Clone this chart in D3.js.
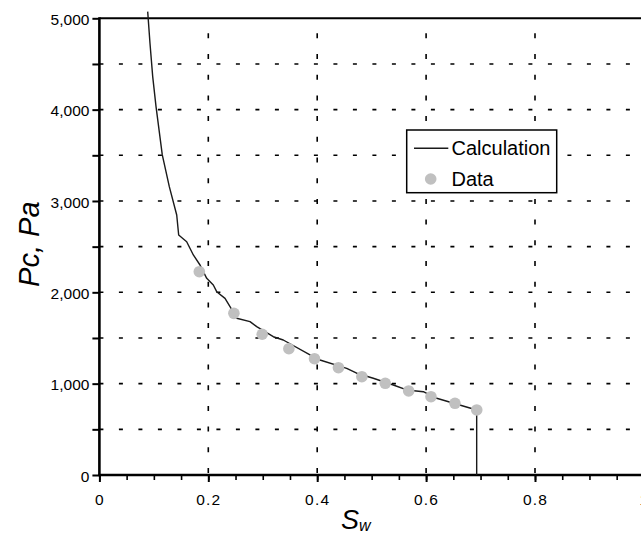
<!DOCTYPE html>
<html>
<head>
<meta charset="utf-8">
<script src="https://cdn.jsdelivr.net/npm/d3@7"></script>
<style>
  html, body { margin: 0; padding: 0; background: #fff; }
  svg { display: block; font-family: "Liberation Sans", Arial, Helvetica, sans-serif; }
</style>
</head>
<body>
<svg id="chart" width="641" height="536"></svg>
<script>
// Capillary pressure curve: calculated Pc vs water saturation, with measured points
const calcSw = [0.0887, 0.0929, 0.0979, 0.1040, 0.1155, 0.1284, 0.1420, 0.1456, 0.1603, 0.1725,
  0.1848, 0.1971, 0.2092, 0.2154, 0.2307, 0.2399, 0.2522, 0.2766, 0.2889, 0.3194,
  0.3377, 0.3868, 0.4051, 0.4542, 0.4725, 0.5030, 0.5398, 0.5644, 0.5949, 0.6195,
  0.6929, 0.6929];
const calcPc = [5073, 4727, 4361, 4033, 3504, 3157, 2847, 2628, 2554, 2409,
  2299, 2153, 2080, 2007, 1934, 1843, 1716, 1679, 1624, 1514,
  1478, 1314, 1259, 1168, 1114, 1059, 985, 931, 912, 840,
  712, 0];

const dataSw = [0.1835, 0.247, 0.299, 0.348, 0.395, 0.439, 0.482, 0.525, 0.568, 0.609, 0.653, 0.693];
const dataPc = [2226, 1770, 1541, 1383, 1273, 1175, 1076, 1004, 920, 857, 785, 712];

const xMajorTicks = [0, 0.2, 0.4, 0.6, 0.8, 1];
const xTickLabels = ["0", "0.2", "0.4", "0.6", "0.8", "1"];
const yMajorTicks = [0, 1000, 2000, 3000, 4000, 5000];
const yTickLabels = ["0", "1,000", "2,000", "3,000", "4,000", "5,000"];
const legendLabels = ["Calculation", "Data"];

const W = 641, H = 536;
const svg = d3.select("#chart");

const x = d3.scaleLinear().domain([0, 1]).range([99.4, 643.9]);
const y = d3.scaleLinear().domain([0, 5000]).range([475, 18.3]);

// Horizontal dashed grid every 500 Pa
const hGrid = d3.range(500, 5000, 500);
svg.append("g").selectAll("line").data(hGrid).join("line")
  .attr("x1", x(0)).attr("x2", W)
  .attr("y1", d => y(d)).attr("y2", d => y(d))
  .attr("stroke", "#000").attr("stroke-width", 1.6)
  .attr("stroke-dasharray", "4,15.5");

// Vertical dashed grid at major x ticks
svg.append("g").selectAll("line").data(xMajorTicks.filter(d => d > 0 && d < 1)).join("line")
  .attr("x1", d => x(d)).attr("x2", d => x(d))
  .attr("y1", y(0) - 2).attr("y2", y(5000))
  .attr("stroke", "#000").attr("stroke-width", 1.6)
  .attr("stroke-dasharray", "5,15.7");

// Top border
svg.append("line")
  .attr("x1", x(0)).attr("x2", W)
  .attr("y1", y(5000)).attr("y2", y(5000))
  .attr("stroke", "#000").attr("stroke-width", 2);

// X axis
const xAxisMinor = d3.axisBottom(x).tickValues(d3.range(0, 1.0001, 0.05)).tickSize(5).tickFormat("");
const gxm = svg.append("g").attr("transform", `translate(0,${y(0)})`).call(xAxisMinor);
gxm.select(".domain").remove();
gxm.selectAll("line").attr("stroke", "#000").attr("stroke-width", 1.6);

const xAxis = d3.axisBottom(x).tickValues(xMajorTicks).tickSize(7).tickPadding(12)
  .tickFormat((d, i) => xTickLabels[i]);
const gx = svg.append("g").attr("transform", `translate(0,${y(0)})`).call(xAxis);
gx.select(".domain").remove();
gx.selectAll("line").attr("stroke", "#000").attr("stroke-width", 2);
gx.selectAll("text").attr("font-size", 15.5).attr("letter-spacing", "1.2px")
  .attr("fill", "#000").attr("font-family", "Liberation Sans, Arial, sans-serif");
svg.append("line")
  .attr("x1", x(0) - 1).attr("x2", W)
  .attr("y1", y(0)).attr("y2", y(0))
  .attr("stroke", "#000").attr("stroke-width", 2.6);

// Y axis
const yAxis = d3.axisLeft(y).tickValues(d3.range(0, 5001, 500)).tickSize(7).tickPadding(3)
  .tickFormat(d => { const i = yMajorTicks.indexOf(d); return i >= 0 ? yTickLabels[i] : ""; });
const gy = svg.append("g").attr("transform", `translate(${x(0)},0)`).call(yAxis);
gy.select(".domain").remove();
gy.selectAll("line").attr("stroke", "#000").attr("stroke-width", 2);
gy.selectAll("text").attr("font-size", 15.5).attr("fill", "#000")
  .attr("dy", "0.4em").attr("font-family", "Liberation Sans, Arial, sans-serif");
svg.append("line")
  .attr("x1", x(0)).attr("x2", x(0))
  .attr("y1", y(5000) - 1).attr("y2", y(0) + 1)
  .attr("stroke", "#000").attr("stroke-width", 2.6);

// Calculated curve
const calc = calcSw.map((s, i) => [s, calcPc[i]]);
svg.append("path")
  .datum(calc)
  .attr("d", d3.line().x(d => x(d[0])).y(d => y(d[1])))
  .attr("fill", "none").attr("stroke", "#1a1a1a").attr("stroke-width", 1.4)
  .attr("stroke-linejoin", "round");

// Measured points
svg.append("g").selectAll("circle").data(dataSw.map((s, i) => [s, dataPc[i]])).join("circle")
  .attr("cx", d => x(d[0])).attr("cy", d => y(d[1])).attr("r", 5.8)
  .attr("fill", "#c0c0c0");

// Legend
const lg = svg.append("g");
lg.append("rect").attr("x", 406.7).attr("y", 130).attr("width", 150).attr("height", 62.7)
  .attr("fill", "#fff").attr("stroke", "#000").attr("stroke-width", 1.5);
lg.append("line").attr("x1", 414).attr("x2", 448.3).attr("y1", 148.3).attr("y2", 148.3)
  .attr("stroke", "#1a1a1a").attr("stroke-width", 1.4);
lg.append("text").attr("x", 451.5).attr("y", 155).attr("font-size", 20).attr("fill", "#000")
  .text(legendLabels[0]);
lg.append("circle").attr("cx", 430.7).attr("cy", 179).attr("r", 5.8).attr("fill", "#c0c0c0");
lg.append("text").attr("x", 451.5).attr("y", 185.5).attr("font-size", 20).attr("fill", "#000")
  .text(legendLabels[1]);

// Axis titles
const xt = svg.append("text").attr("x", 341).attr("y", 529).attr("font-style", "italic")
  .attr("font-size", 27).attr("fill", "#000");
xt.append("tspan").text("S");
xt.append("tspan").attr("font-size", 16).attr("dy", 2).text("w");

svg.append("text")
  .attr("transform", `translate(38.5,244.2) rotate(-90)`)
  .attr("text-anchor", "middle").attr("font-style", "italic")
  .attr("font-size", 29).attr("fill", "#000")
  .text("Pc,  Pa");
</script>
</body>
</html>
